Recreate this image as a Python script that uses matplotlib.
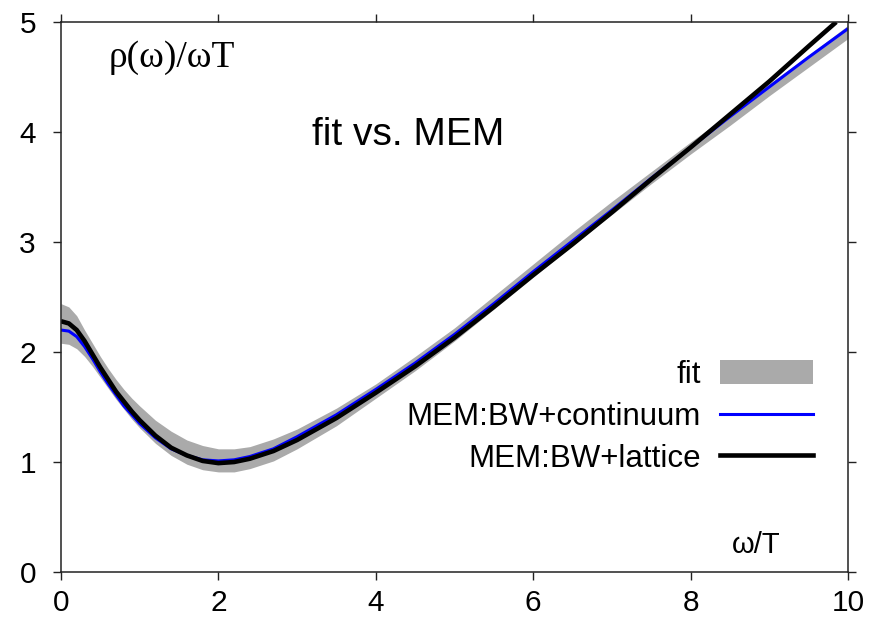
import matplotlib
matplotlib.use("Agg")
import matplotlib.pyplot as plt
from matplotlib.patches import Patch
from matplotlib.lines import Line2D

plt.rcParams['font.family'] = ['Liberation Sans', 'DejaVu Sans']

# omega/T grid shared by all curves
omega = [0.0, 0.1, 0.2, 0.3, 0.4, 0.5, 0.6, 0.7, 0.8, 0.9, 1.0, 1.2, 1.4, 1.6,
         1.8, 2.0, 2.2, 2.4, 2.7, 3.0, 3.5, 4.0, 4.5, 5.0, 5.5, 6.0, 6.5,
         7.0, 7.5, 8.0, 8.5, 9.0, 9.5, 10.0]

# fit: error band (lower / upper)
fit_lo = [2.08, 2.07, 2.03, 1.96, 1.87, 1.77, 1.67, 1.57, 1.48, 1.39, 1.31,
          1.17, 1.06, 0.98, 0.93, 0.91, 0.91, 0.94, 1.01, 1.12, 1.33, 1.58,
          1.83, 2.10, 2.39, 2.68, 2.97, 3.25, 3.53, 3.80, 4.06, 4.33, 4.59,
          4.85]
fit_hi = [2.44, 2.41, 2.33, 2.20, 2.08, 1.96, 1.85, 1.75, 1.66, 1.58, 1.51,
          1.38, 1.28, 1.20, 1.15, 1.12, 1.12, 1.14, 1.21, 1.30, 1.49, 1.71,
          1.96, 2.22, 2.51, 2.80, 3.09, 3.37, 3.64, 3.91, 4.17, 4.44, 4.70,
          4.97]

# MEM with Breit-Wigner + continuum default model
mem_cont = [2.20, 2.19, 2.14, 2.05, 1.94, 1.82, 1.71, 1.61, 1.51, 1.43, 1.35,
            1.22, 1.12, 1.06, 1.02, 1.01, 1.02, 1.05, 1.12, 1.23, 1.43, 1.66,
            1.90, 2.16, 2.44, 2.73, 3.01, 3.29, 3.58, 3.86, 4.14, 4.41, 4.68,
            4.94]

# MEM with Breit-Wigner + lattice default model
omega_lat = omega[:-1] + [9.85]
mem_lat = [2.28, 2.26, 2.20, 2.10, 1.98, 1.86, 1.75, 1.64, 1.55, 1.46, 1.38,
           1.24, 1.13, 1.06, 1.01, 0.99, 1.00, 1.03, 1.10, 1.20, 1.40, 1.63,
           1.87, 2.13, 2.41, 2.70, 2.98, 3.27, 3.57, 3.86, 4.16, 4.46, 4.78,
           5.00]

xticks = [0, 2, 4, 6, 8, 10]
yticks = [0, 1, 2, 3, 4, 5]

band_color = '#aaaaaa'

fig = plt.figure(figsize=(8.71, 6.24), dpi=100)
ax = fig.add_axes([0.070, 0.0833, 0.9036, 0.8814])

ax.fill_between(omega, fit_lo, fit_hi, color=band_color, lw=0)
ax.plot(omega, mem_cont, color='#0000ff', lw=2.2, solid_capstyle='butt')
ax.plot(omega_lat, mem_lat, color='black', lw=3.3, solid_capstyle='butt')

ax.set_xlim(0, 10)
ax.set_ylim(0, 5)
ax.set_xticks(xticks)
ax.set_yticks(yticks)
ax.set_xticklabels([str(t) for t in xticks])
ax.set_yticklabels([str(t) for t in yticks])
ax.tick_params(axis='both', direction='out', length=6, width=1.0,
               labelsize=21.5, top=True, right=True, colors='#222222',
               labelcolor='black')
ax.tick_params(axis='x', pad=6.5)
ax.tick_params(axis='y', pad=12)
for sp in ax.spines.values():
    sp.set_linewidth(1.1)
    sp.set_color('#222222')

ax.text(0.060, 0.918, 'ρ(ω)/ωT', transform=ax.transAxes, fontsize=27,
        family='Liberation Serif', ha='left', va='baseline')
ax.text(0.441, 0.776, 'fit vs. MEM', transform=ax.transAxes, fontsize=28,
        ha='center', va='baseline')
ax.text(0.8526, 0.0345, 'ω/T', transform=ax.transAxes, fontsize=21,
        ha='left', va='baseline')

handles = [Patch(facecolor=band_color, edgecolor='none'),
           Line2D([], [], color='#0000ff', lw=2.2),
           Line2D([], [], color='black', lw=3.3)]
labels = ['fit', 'MEM:BW+continuum', 'MEM:BW+lattice']
ax.legend(handles, labels, loc='upper right', bbox_to_anchor=(0.976, 0.414),
          frameon=False, markerfirst=False, fontsize=22.5, handlelength=3.0,
          handleheight=0.78, labelspacing=0.38, handletextpad=0.6,
          borderpad=0.0)

fig.savefig('out.png', dpi=100)
